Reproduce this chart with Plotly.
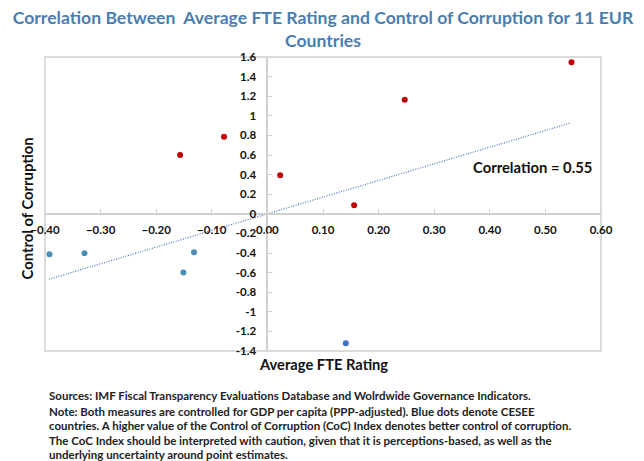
import plotly.graph_objects as go
import numpy as np

# Non-CESEE countries (red)
red_x = [-0.157, -0.078, 0.023, 0.156, 0.247, 0.547]
red_y = [0.60, 0.787, 0.393, 0.087, 1.164, 1.546]
# CESEE countries (blue)
cesee_x = [-0.392, -0.329, -0.151, -0.132]
cesee_y = [-0.413, -0.403, -0.60, -0.393]
cesee2_x = [0.141]
cesee2_y = [-1.32]
# Trend line
trend_slope = 1.70
trend_intercept = 0.0
trend_x_range = [-0.393, 0.545]

x_ticks = [-0.4, -0.3, -0.2, -0.1, 0.0, 0.1, 0.2, 0.3, 0.4, 0.5, 0.6]
y_ticks = [1.6, 1.4, 1.2, 1.0, 0.8, 0.6, 0.4, 0.2, 0.0, -0.2, -0.4, -0.6, -0.8, -1.0, -1.2, -1.4]
y_tick_labels = ["1.6", "1.4", "1.2", "1", "0.8", "0.6", "0.4", "0.2", "0", "-0.2", "-0.4",
                 "-0.6", "-0.8", "-1", "-1.2", "-1.4"]

notes = [
    "Sources: IMF Fiscal Transparency Evaluations Database and Wolrdwide Governance Indicators.",
    "Note: Both measures are controlled for GDP per capita (PPP-adjusted). Blue dots denote CESEE",
    "countries. A higher value of the Control of Corruption (CoC) Index denotes better control of corruption.",
    "The CoC Index should be interpreted with caution, given that it is perceptions-based, as well as the",
    "underlying uncertainty around point estimates.",
]
note_px_y = [395, 411.7, 425.7, 440, 454]

FONT = "Lato, sans-serif"

tx = np.array(trend_x_range)
ty = trend_slope * tx + trend_intercept

fig = go.Figure()
fig.add_trace(go.Scatter(x=tx, y=ty, mode="lines",
                         line=dict(color="#4472C4", width=1.2, dash="1px,1.5px"), hoverinfo="skip"))
fig.add_trace(go.Scatter(x=red_x, y=red_y, mode="markers",
                         marker=dict(color="#C00000", size=6)))
fig.add_trace(go.Scatter(x=cesee_x, y=cesee_y, mode="markers",
                         marker=dict(color="#4A8DB5", size=6)))
fig.add_trace(go.Scatter(x=cesee2_x, y=cesee2_y, mode="markers",
                         marker=dict(color="#3C6FC8", size=6)))

axis_color = "#D0D0D0"
tickfont = dict(family=FONT, size=11.5, color="#111111", weight="bold")

PLOT_TOP, PLOT_BOTTOM = 57, 351
PLOT_H = PLOT_BOTTOM - PLOT_TOP


def py(pixel_y):
    return (PLOT_BOTTOM - pixel_y) / PLOT_H


fig.update_layout(
    width=644, height=461,
    margin=dict(l=45, r=43, t=57, b=110),
    paper_bgcolor="white", plot_bgcolor="white",
    showlegend=False,
    title=dict(
        text="Correlation Between  Average FTE Rating and Control of Corruption for 11 EUR<br>Countries",
        x=0.5, xanchor="center", xref="paper", y=1 - 24 / 461, yanchor="top", yref="container",
        font=dict(family=FONT, size=17.6, color="#4A7EB0", weight="bold"),
    ),
    xaxis=dict(
        range=[-0.4, 0.6], anchor="free", position=1.4 / 3.0,
        showline=True, linecolor=axis_color, linewidth=2,
        ticks="inside", ticklen=4, tickcolor=axis_color, tickwidth=1,
        tickvals=x_ticks, tickformat=".2f", tickfont=tickfont,
        ticklabelstandoff=5,
        showgrid=False, zeroline=False,
    ),
    yaxis=dict(
        range=[-1.4, 1.6], anchor="free", position=0.4,
        showline=True, linecolor=axis_color, linewidth=2,
        ticks="inside", ticklen=4, tickcolor=axis_color, tickwidth=1,
        tickvals=y_ticks, ticktext=y_tick_labels, tickfont=tickfont,
        ticklabelstandoff=8,
        showgrid=False, zeroline=False,
    ),
    shapes=[dict(type="rect", xref="paper", yref="paper", x0=0, x1=1, y0=0, y1=1,
                 line=dict(color=axis_color, width=1.5), layer="below")],
)

annotations = [
    dict(text="Control of Corruption", xref="paper", yref="paper", x=-0.0324, y=py(208.5),
         textangle=-90, showarrow=False, xanchor="center", yanchor="middle",
         font=dict(family=FONT, size=14.8, color="#111111", weight="bold")),
    dict(text="Average FTE Rating", xref="paper", yref="paper", x=(323 - 45) / 556, y=py(364),
         showarrow=False, xanchor="center", yanchor="middle",
         font=dict(family=FONT, size=14.7, color="#111111", weight="bold")),
    dict(text="Correlation = 0.55", xref="paper", yref="paper", x=(532 - 45) / 556, y=py(167),
         showarrow=False, xanchor="center", yanchor="middle",
         font=dict(family=FONT, size=14.8, color="#111111", weight="bold")),
]
for t, yy in zip(notes, note_px_y):
    annotations.append(dict(text=t, xref="paper", yref="paper", x=(47 - 45) / 556, y=py(yy),
                            showarrow=False, xanchor="left", yanchor="middle", align="left",
                            font=dict(family=FONT, size=11.5, color="#222222", weight="bold")))
fig.update_layout(annotations=annotations)

fig.write_html("out.html", config={"displayModeBar": False},
               post_script="document.body.style.margin='0';")
